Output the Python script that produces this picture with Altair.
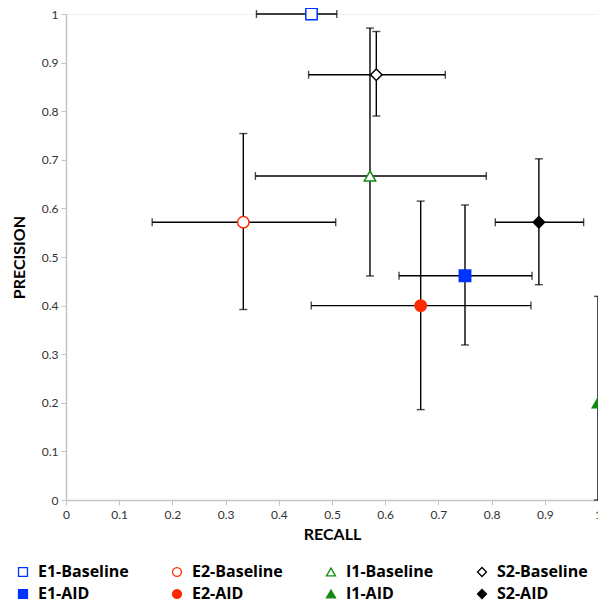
import altair as alt
import pandas as pd

series = ["E1-Baseline", "E2-Baseline", "I1-Baseline", "S2-Baseline",
          "E1-AID", "E2-AID", "I1-AID", "S2-AID"]
recall = [0.4615, 0.3333, 0.5714, 0.5833, 0.75, 0.6667, 1.0, 0.8889]
precision = [1.0, 0.5714, 0.6667, 0.875, 0.4615, 0.4, 0.2, 0.5714]
recall_lo = [0.358, 0.162, 0.356, 0.456, 0.626, 0.461, None, 0.807]
recall_hi = [0.509, 0.507, 0.790, 0.713, 0.876, 0.874, None, 0.973]
prec_lo = [None, 0.392, 0.461, 0.790, 0.319, 0.186, 0.0, 0.443]
prec_hi = [None, 0.754, 0.971, 0.964, 0.607, 0.615, 0.419, 0.702]

shapes = ["square", "circle", "triangle-up", "diamond",
          "square", "circle", "triangle-up", "diamond"]
strokes = ["#0033ff", "#ff2a00", "#138a13", "#000000",
           "#0033ff", "#ff2a00", "#138a13", "#000000"]
fills = ["#ffffff", "#ffffff", "#ffffff", "#ffffff",
         "#0033ff", "#ff2a00", "#138a13", "#000000"]

df = pd.DataFrame({"series": series, "recall": recall, "precision": precision,
                   "rlo": recall_lo, "rhi": recall_hi,
                   "plo": prec_lo, "phi": prec_hi})

ticks = [0, 0.1, 0.2, 0.3, 0.4, 0.5, 0.6, 0.7, 0.8, 0.9, 1]

xs = alt.Scale(domain=[0, 1], nice=False)
ys = alt.Scale(domain=[0, 1], nice=False)

xax = alt.Axis(values=ticks, format="~g", grid=False, title="RECALL", labelFlush=False)
yax = alt.Axis(values=ticks, format="~g", grid=False, title="PRECISION", labelFlush=False)

base = alt.Chart(df)
ecol = "#000000"

hbar = base.transform_filter("datum.rlo != null").mark_rule(color=ecol, strokeWidth=1.4).encode(
    x=alt.X("rlo:Q", scale=xs, axis=xax), x2="rhi:Q",
    y=alt.Y("precision:Q", scale=ys, axis=yax))
hcap_lo = base.transform_filter("datum.rlo != null").mark_tick(color=ecol, thickness=1.4, size=8, orient="vertical").encode(
    x=alt.X("rlo:Q", scale=xs), y=alt.Y("precision:Q", scale=ys))
hcap_hi = base.transform_filter("datum.rlo != null").mark_tick(color=ecol, thickness=1.4, size=8, orient="vertical").encode(
    x=alt.X("rhi:Q", scale=xs), y=alt.Y("precision:Q", scale=ys))

vbar = base.transform_filter("datum.plo != null").mark_rule(color=ecol, strokeWidth=1.4).encode(
    x=alt.X("recall:Q", scale=xs), y=alt.Y("plo:Q", scale=ys), y2="phi:Q")
vcap_lo = base.transform_filter("datum.plo != null").mark_tick(color=ecol, thickness=1.4, size=8, orient="horizontal").encode(
    x=alt.X("recall:Q", scale=xs), y=alt.Y("plo:Q", scale=ys))
vcap_hi = base.transform_filter("datum.plo != null").mark_tick(color=ecol, thickness=1.4, size=8, orient="horizontal").encode(
    x=alt.X("recall:Q", scale=xs), y=alt.Y("phi:Q", scale=ys))

leg = alt.Legend(title=None, orient="none", legendX=-51, legendY=550, columns=4,
                 direction="horizontal",
                 columnPadding=40, rowPadding=6, symbolSize=80, symbolStrokeWidth=1.3,
                 labelFont="Open Sans", labelFontSize=16, labelFontWeight="bold",
                 labelColor="#000000", symbolOffset=0, labelOffset=7)

pts = base.mark_point(filled=True, strokeWidth=1.5, opacity=1).encode(
    x=alt.X("recall:Q", scale=xs),
    y=alt.Y("precision:Q", scale=ys),
    shape=alt.Shape("series:N", scale=alt.Scale(domain=series, range=shapes), legend=leg),
    stroke=alt.Stroke("series:N", scale=alt.Scale(domain=series, range=strokes), legend=leg),
    fill=alt.Fill("series:N", scale=alt.Scale(domain=series, range=fills), legend=leg),
    size=alt.value(130),
)

chart = alt.layer(hbar, hcap_lo, hcap_hi, vbar, vcap_lo, vcap_hi, pts).properties(
    width=532, height=486,
    autosize=alt.AutoSizeParams(type="none"),
    padding={"left": 58, "top": 6, "right": 0, "bottom": 104},
).configure_view(stroke="#f0f0f0").configure_axis(
    domainColor="#c4c4c4", tickColor="#c4c4c4", tickSize=5, domainWidth=1.5,
    labelFont="Lato", labelFontSize=12, labelColor="#333333",
    titleFont="Lato", titleFontSize=16, titleFontWeight="bold", titleColor="#000000",
).configure_axisX(labelPadding=4, titlePadding=6).configure_axisY(
    labelPadding=3, titlePadding=14)

chart.save("out.html", embed_options={"renderer": "svg", "actions": False})
